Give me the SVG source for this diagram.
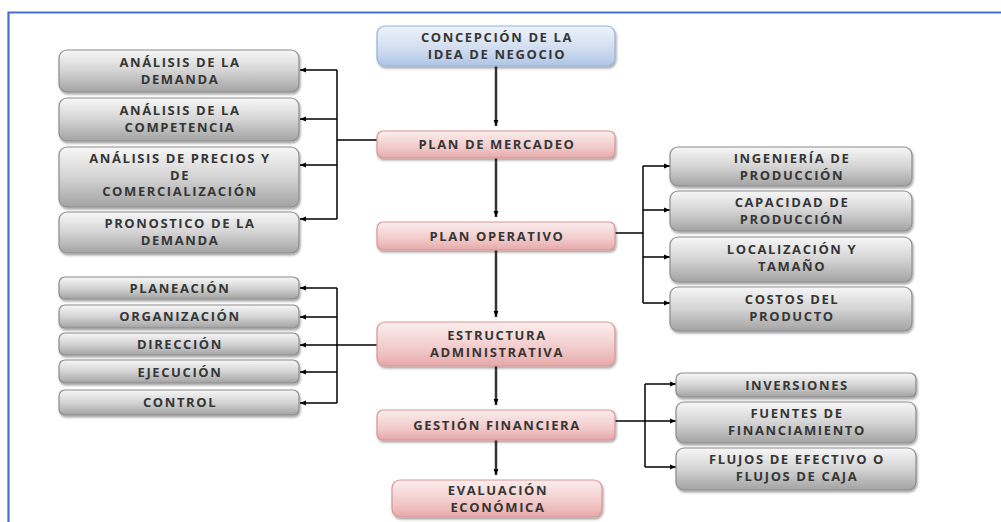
<svg xmlns="http://www.w3.org/2000/svg" width="1001" height="522" viewBox="0 0 1001 522">
<defs>
<linearGradient id="gGray" x1="0" y1="0" x2="0" y2="1">
<stop offset="0" stop-color="#f7f7f7"/><stop offset="0.5" stop-color="#d4d4d4"/><stop offset="1" stop-color="#a3a3a3"/>
</linearGradient>
<linearGradient id="gPink" x1="0" y1="0" x2="0" y2="1">
<stop offset="0" stop-color="#fbeeee"/><stop offset="0.6" stop-color="#f2caca"/><stop offset="1" stop-color="#e6a9a9"/>
</linearGradient>
<linearGradient id="gBlue" x1="0" y1="0" x2="0" y2="1">
<stop offset="0" stop-color="#eef3fa"/><stop offset="0.6" stop-color="#cfdcef"/><stop offset="1" stop-color="#aec5e6"/>
</linearGradient>
<filter id="sh" x="-5%" y="-20%" width="110%" height="150%">
<feDropShadow dx="1" dy="2" stdDeviation="1.2" flood-color="#000" flood-opacity="0.35"/>
</filter>
<marker id="ah" viewBox="0 0 10 10" refX="10" refY="5" markerWidth="6" markerHeight="6" orient="auto" markerUnits="userSpaceOnUse">
<path d="M0,1 L10,5 L0,9 z" fill="#000"/>
</marker>
</defs>
<style>
.gray{fill:url(#gGray);stroke:#8c8c8c;stroke-width:1.2;filter:url(#sh)}
.pink{fill:url(#gPink);stroke:#d99594;stroke-width:1.2;filter:url(#sh)}
.blue{fill:url(#gBlue);stroke:#95b3d7;stroke-width:1.2;filter:url(#sh)}
text{font-family:"Open Sans","Liberation Sans",sans-serif;font-weight:bold;font-size:13px;letter-spacing:1.6px;fill:#363636;text-anchor:middle}
.c{fill:none;stroke:#000;stroke-width:1.5}
.v{fill:none;stroke:#333;stroke-width:2.5}
</style>
<rect width="1001" height="522" fill="#fff"/>
<path d="M8.5,522 V12.5 H1001" fill="none" stroke="#4472c4" stroke-width="2.2"/>

<g id="connectors">
<path class="v" d="M496,66 V126" marker-end="url(#ah)"/>
<path class="v" d="M496,158 V217" marker-end="url(#ah)"/>
<path class="v" d="M496,250 V317" marker-end="url(#ah)"/>
<path class="v" d="M496,366 V405" marker-end="url(#ah)"/>
<path class="v" d="M496,440 V475" marker-end="url(#ah)"/>
<path class="c" d="M377,140 H337"/>
<path class="c" d="M337,70 V219"/>
<path class="c" d="M337,70 H300" marker-end="url(#ah)"/>
<path class="c" d="M337,119 H300" marker-end="url(#ah)"/>
<path class="c" d="M337,165 H300" marker-end="url(#ah)"/>
<path class="c" d="M337,219 H300" marker-end="url(#ah)"/>
<path class="c" d="M615,233 H643"/>
<path class="c" d="M643,166 V303"/>
<path class="c" d="M643,166 H670" marker-end="url(#ah)"/>
<path class="c" d="M643,210 H670" marker-end="url(#ah)"/>
<path class="c" d="M643,257 H670" marker-end="url(#ah)"/>
<path class="c" d="M643,303 H670" marker-end="url(#ah)"/>
<path class="c" d="M377,345 H337"/>
<path class="c" d="M337,288 V403"/>
<path class="c" d="M337,288 H300" marker-end="url(#ah)"/>
<path class="c" d="M337,317 H300" marker-end="url(#ah)"/>
<path class="c" d="M337,345 H300" marker-end="url(#ah)"/>
<path class="c" d="M337,372 H300" marker-end="url(#ah)"/>
<path class="c" d="M337,403 H300" marker-end="url(#ah)"/>
<path class="c" d="M615,421 H645"/>
<path class="c" d="M645,384 V467"/>
<path class="c" d="M645,384 H676" marker-end="url(#ah)"/>
<path class="c" d="M645,421 H676" marker-end="url(#ah)"/>
<path class="c" d="M645,467 H676" marker-end="url(#ah)"/>
</g>

<g id="n-concepcion"><rect class="blue" x="377" y="26" width="238" height="40" rx="8"/><text x="497" y="42">CONCEPCIÓN DE LA</text><text x="497" y="59">IDEA DE NEGOCIO</text></g>
<g id="n-mercadeo"><rect class="pink" x="377" y="131" width="238" height="27" rx="6"/><text x="497" y="149">PLAN DE MERCADEO</text></g>
<g id="n-operativo"><rect class="pink" x="377" y="222" width="238" height="28" rx="6"/><text x="497" y="240.5">PLAN OPERATIVO</text></g>
<g id="n-estructura"><rect class="pink" x="377" y="322" width="238" height="44" rx="8"/><text x="497" y="340">ESTRUCTURA</text><text x="497" y="357">ADMINISTRATIVA</text></g>
<g id="n-gestion"><rect class="pink" x="377" y="410" width="238" height="30" rx="6"/><text x="497" y="429.5">GESTIÓN FINANCIERA</text></g>
<g id="n-evaluacion"><rect class="pink" x="392" y="480" width="210" height="37" rx="8"/><text x="498" y="495">EVALUACIÓN</text><text x="498" y="512">ECONÓMICA</text></g>

<g id="n-demanda"><rect class="gray" x="59" y="50" width="240" height="42" rx="8"/><text x="180" y="67">ANÁLISIS DE LA</text><text x="180" y="84">DEMANDA</text></g>
<g id="n-competencia"><rect class="gray" x="59" y="98" width="240" height="43" rx="8"/><text x="180" y="115">ANÁLISIS DE LA</text><text x="180" y="132">COMPETENCIA</text></g>
<g id="n-precios"><rect class="gray" x="59" y="147" width="240" height="60" rx="8"/><text x="180" y="163">ANÁLISIS DE PRECIOS Y</text><text x="180" y="179.5">DE</text><text x="180" y="196">COMERCIALIZACIÓN</text></g>
<g id="n-pronostico"><rect class="gray" x="59" y="212" width="240" height="41" rx="8"/><text x="180" y="228">PRONOSTICO DE LA</text><text x="180" y="245">DEMANDA</text></g>

<g id="n-ingenieria"><rect class="gray" x="670" y="147" width="242" height="39" rx="8"/><text x="792" y="162.5">INGENIERÍA DE</text><text x="792" y="179.5">PRODUCCIÓN</text></g>
<g id="n-capacidad"><rect class="gray" x="670" y="191" width="242" height="40" rx="8"/><text x="792" y="206.5">CAPACIDAD DE</text><text x="792" y="223.5">PRODUCCIÓN</text></g>
<g id="n-localizacion"><rect class="gray" x="670" y="237" width="242" height="45" rx="8"/><text x="792" y="254">LOCALIZACIÓN Y</text><text x="792" y="271">TAMAÑO</text></g>
<g id="n-costos"><rect class="gray" x="670" y="287" width="242" height="44" rx="8"/><text x="792" y="304">COSTOS DEL</text><text x="792" y="321">PRODUCTO</text></g>

<g id="n-planeacion"><rect class="gray" x="59" y="277" width="240" height="22" rx="6"/><text x="180" y="292.5">PLANEACIÓN</text></g>
<g id="n-organizacion"><rect class="gray" x="59" y="305" width="240" height="23" rx="6"/><text x="180" y="321">ORGANIZACIÓN</text></g>
<g id="n-direccion"><rect class="gray" x="59" y="333" width="240" height="22" rx="6"/><text x="180" y="349">DIRECCIÓN</text></g>
<g id="n-ejecucion"><rect class="gray" x="59" y="360" width="240" height="23" rx="6"/><text x="180" y="376.5">EJECUCIÓN</text></g>
<g id="n-control"><rect class="gray" x="59" y="390" width="240" height="25" rx="6"/><text x="180" y="407">CONTROL</text></g>

<g id="n-inversiones"><rect class="gray" x="676" y="373" width="240" height="24" rx="6"/><text x="797" y="389.5">INVERSIONES</text></g>
<g id="n-fuentes"><rect class="gray" x="676" y="402" width="240" height="41" rx="8"/><text x="797" y="418">FUENTES DE</text><text x="797" y="435">FINANCIAMIENTO</text></g>
<g id="n-flujos"><rect class="gray" x="676" y="448" width="240" height="42" rx="8"/><text x="797" y="464">FLUJOS DE EFECTIVO O</text><text x="797" y="481">FLUJOS DE CAJA</text></g>
</svg>
